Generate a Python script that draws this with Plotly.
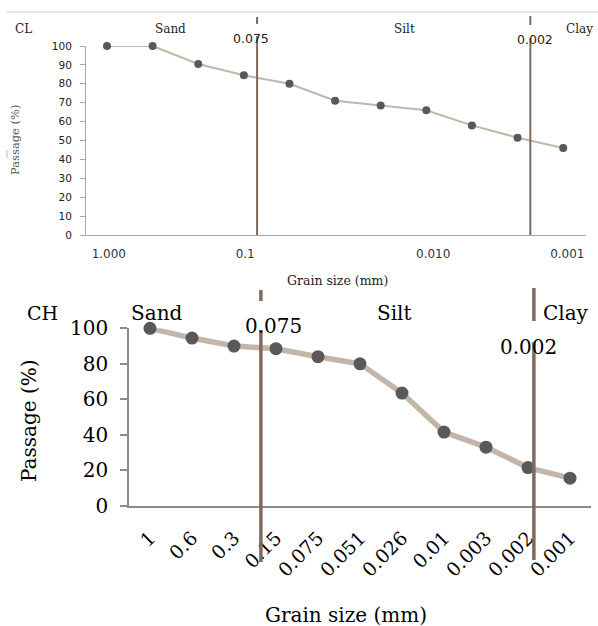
import plotly.graph_objects as go

W, H = 598, 626

# ---- data ----
cl_index = list(range(11))
cl_passage = [100, 100, 90.5, 84.5, 80, 71, 68.5, 66, 58, 51.5, 46]
cl_tick_pos = [0.04, 3.03, 7.15, 10.09]
cl_tick_text = ["1.000", "0.1", "0.010", "0.001"]

ch_sizes = ["1", "0.6", "0.3", "0.15", "0.075", "0.051", "0.026", "0.01", "0.003", "0.002", "0.001"]
ch_passage = [100, 94.5, 90, 88.5, 84, 80, 63.5, 41.5, 33, 21.5, 15.5]

zone_labels = ["Sand", "Silt", "Clay"]
limit_labels = ["0.075", "0.002"]


def px(x):
    return x / W


def py(y):
    return 1 - y / H


SERIF = "DejaVu Serif"
SANS = "DejaVu Sans"
BROWN = "#7f6a5e"
LINEC = "#c4b5a9"
MARK = "#595959"

fig = go.Figure()

fig.add_trace(go.Scatter(
    x=cl_index, y=cl_passage, mode="lines+markers",
    line=dict(color=LINEC, width=2),
    marker=dict(color=MARK, size=8),
    xaxis="x", yaxis="y", showlegend=False, cliponaxis=False))

fig.add_trace(go.Scatter(
    x=list(range(len(ch_sizes))), y=ch_passage, mode="lines+markers",
    line=dict(color=LINEC, width=5.5),
    marker=dict(color=MARK, size=13),
    xaxis="x2", yaxis="y2", showlegend=False, cliponaxis=False))

fig.update_layout(
    template="none",
    width=W, height=H, autosize=False,
    margin=dict(l=0, r=0, t=0, b=0, pad=0, autoexpand=False),
    paper_bgcolor="white", plot_bgcolor="white",
    xaxis=dict(domain=[px(86), px(586)], range=[-0.46, 10.5],
               tickvals=cl_tick_pos, ticktext=cl_tick_text,
               showline=True, linecolor="#a6a6a6", linewidth=1,
               showgrid=False, zeroline=False, ticks="", automargin=False,
               tickfont=dict(family=SANS, size=12, color="#333"),
               ticklabelstandoff=8, anchor="y", fixedrange=True),
    yaxis=dict(domain=[py(235), py(46)], range=[0, 100], dtick=10,
               showline=True, linecolor="#a6a6a6", linewidth=1,
               ticks="outside", ticklen=5, tickcolor="#a6a6a6",
               showgrid=False, zeroline=False, automargin=False,
               tickfont=dict(family=SANS, size=10.5, color="#222"),
               ticklabelstandoff=6, anchor="x", fixedrange=True),
    xaxis2=dict(domain=[px(129), px(591)], range=[-0.5, 10.5],
                tickvals=list(range(len(ch_sizes))), ticktext=ch_sizes,
                tickangle=-45,
                showline=True, linecolor="#8c8c8c", linewidth=1.5,
                showgrid=False, zeroline=False, ticks="", automargin=False,
                tickfont=dict(family=SERIF, size=19, color="#000"),
                ticklabelstandoff=12, anchor="y2", fixedrange=True),
    yaxis2=dict(domain=[py(505.7), py(328.3)], range=[0, 100], dtick=20,
                showline=True, linecolor="#8c8c8c", linewidth=1.5,
                ticks="outside", ticklen=7, tickcolor="#8c8c8c", tickwidth=1.5,
                showgrid=False, zeroline=False, automargin=False,
                tickfont=dict(family=SERIF, size=20, color="#000"),
                ticklabelstandoff=8, anchor="x2", fixedrange=True),
)

shapes = []
shapes.append(dict(type="line", xref="paper", yref="paper",
                   x0=px(7), x1=px(598), y0=py(12), y1=py(12),
                   line=dict(color="#c8c8c8", width=1)))
shapes.append(dict(type="line", xref="paper", yref="paper",
                   x0=px(7), x1=px(7), y0=py(150), y1=py(158),
                   line=dict(color="#bbbbbb", width=1)))


def vline(xref, xv, y0, y1, w):
    shapes.append(dict(type="line", xref=xref, yref="paper",
                       x0=xv, x1=xv, y0=py(y0), y1=py(y1),
                       line=dict(color=BROWN, width=w)))


vline("x", 3.29, 17, 24, 2)
vline("x", 3.29, 36, 235, 2)
vline("x", 9.28, 16, 25, 2)
vline("x", 9.28, 38, 235, 2)
vline("x2", 2.64, 290, 301, 3.5)
vline("x2", 2.64, 330, 562, 3.5)
vline("x2", 9.14, 288, 321, 3.5)
vline("x2", 9.14, 342, 560, 3.5)

fig.update_layout(shapes=shapes)

ann = []


def text(t, x, y, size, family=SERIF, color="#222", angle=0):
    ann.append(dict(text=t, x=px(x), y=py(y), xref="paper", yref="paper",
                    showarrow=False, xanchor="center", yanchor="middle",
                    textangle=angle,
                    font=dict(family=family, size=size, color=color)))


text("CL", 23, 29, 12)
text(zone_labels[0], 170, 29, 12)
text(zone_labels[1], 404, 29, 12)
text(zone_labels[2], 579, 29, 12)
text(limit_labels[0], 251, 39, 12.5, family=SANS, color="#222")
text(limit_labels[1], 535, 40, 12.5, family=SANS, color="#222")
text("Grain size (mm)", 337, 280, 12.5)
text("Passage (%)", 15, 140, 11.5, color="#555", angle=-90)

text("CH", 42, 313, 19, color="#000")
text(zone_labels[0], 157, 313, 20, color="#000")
text(limit_labels[0], 273, 326, 20, color="#000")
text(zone_labels[1], 394, 313, 20, color="#000")
text(zone_labels[2], 566, 313, 20, color="#000")
text(limit_labels[1], 528, 347, 20, color="#000")
text("Grain size (mm)", 346, 615, 20, color="#000")
text("Passage (%)", 29, 421, 20, color="#000", angle=-90)

fig.update_layout(annotations=ann)

post = ("document.body.style.margin='0';document.body.style.padding='0';"
        "document.body.style.overflow='hidden';"
        "var d=document.getElementById('{plot_id}');"
        "d.style.position='absolute';d.style.left='0px';d.style.top='0px';")

fig.write_html("out.html", config={"responsive": False, "displayModeBar": False},
               post_script=post)
